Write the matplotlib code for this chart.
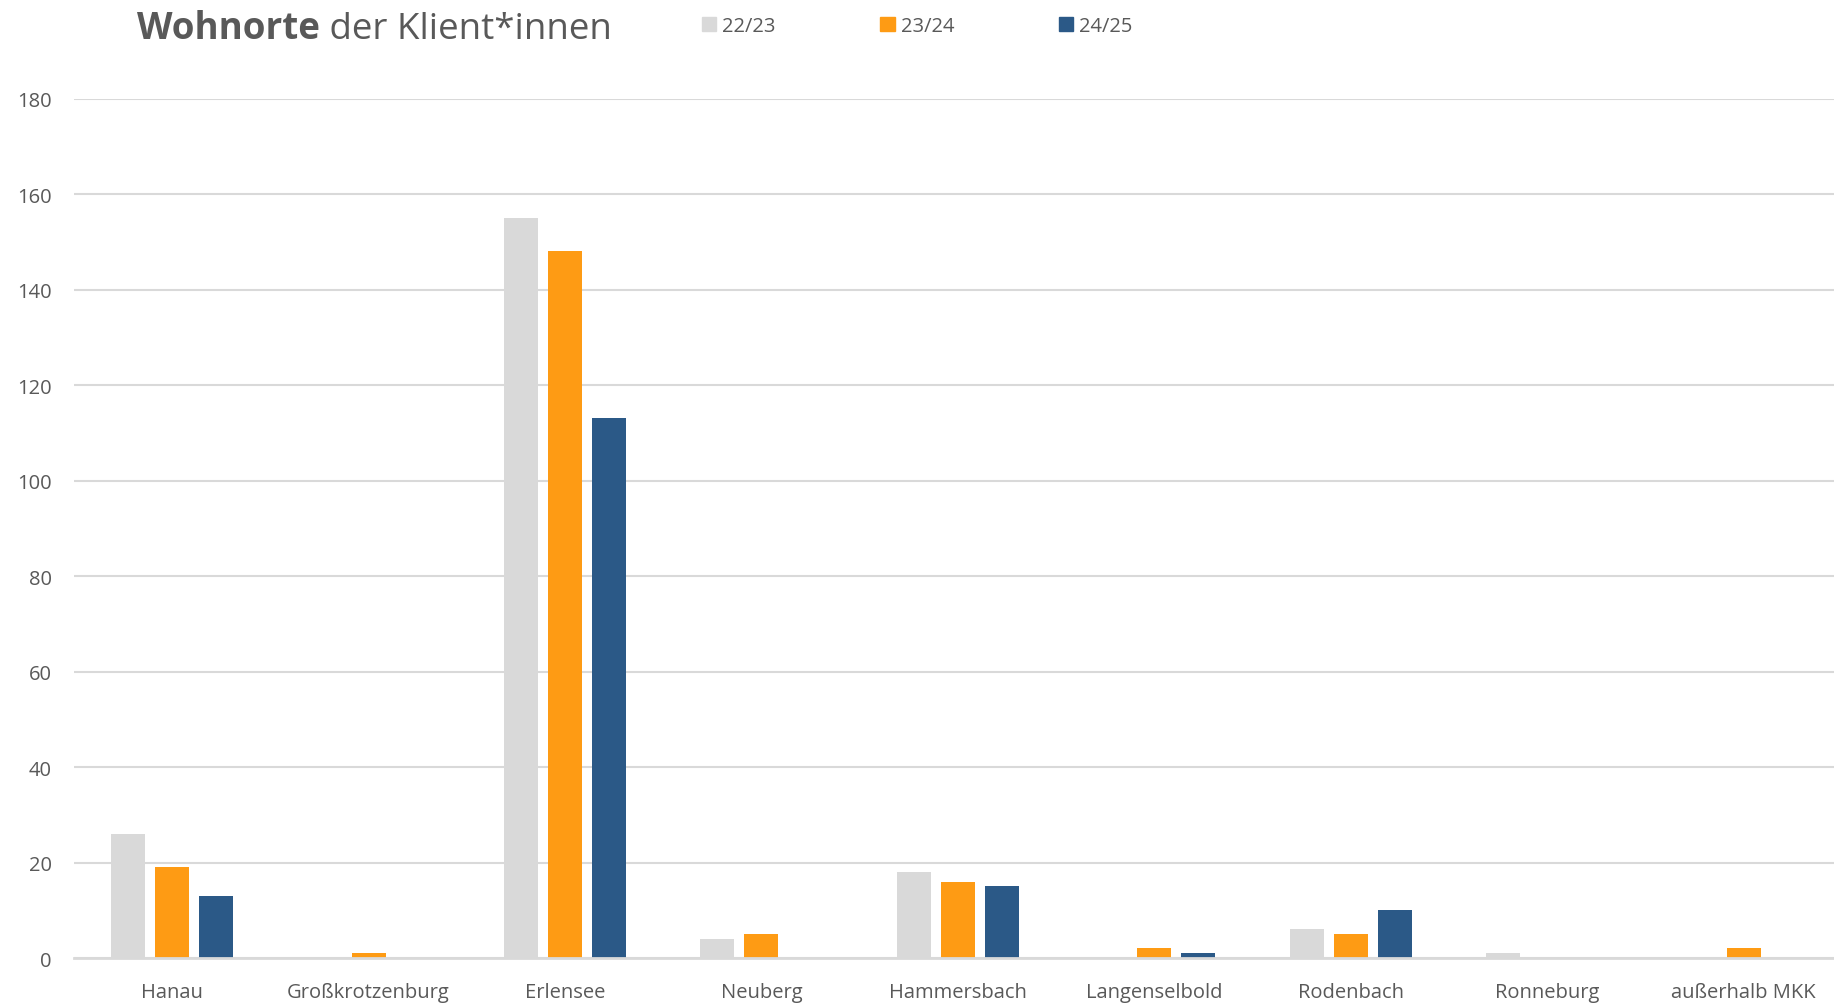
import numpy as np
import matplotlib.pyplot as plt
from matplotlib.patches import Patch

plt.rcParams['font.family'] = ['Open Sans', 'DejaVu Sans']

orte = ['Hanau', 'Großkrotzenburg', 'Erlensee', 'Neuberg', 'Hammersbach',
        'Langenselbold', 'Rodenbach', 'Ronneburg', 'außerhalb MKK']
jahre = ['22/23', '23/24', '24/25']
v_22_23 = [26, 0, 155, 4, 18, 0, 6, 1, 0]
v_23_24 = [19, 1, 148, 5, 16, 2, 5, 0, 2]
v_24_25 = [13, 0, 113, 0, 15, 1, 10, 0, 0]
farben = ['#d9d9d9', '#fe9b14', '#2b5987']

textfarbe = '#595959'
gridfarbe = '#d9d9d9'

fig = plt.figure(figsize=(18.34, 10.04), dpi=100)
ax = fig.add_axes([0.0403, 0.0448, 0.964, 0.856])

x = np.arange(len(orte))
breite = 0.173
abstand = 0.224
for i, (werte, farbe) in enumerate(zip([v_22_23, v_23_24, v_24_25], farben)):
    ax.bar(x + (i - 1) * abstand, werte, breite, color=farbe, label=jahre[i], zorder=3)

ax.set_xlim(-0.5, len(orte) - 0.5)
ax.set_ylim(0, 180)
ax.set_yticks(range(0, 181, 20))
ax.set_xticks(x)
ax.set_xticklabels(orte)
ax.tick_params(axis='both', length=0, labelsize=14.5, colors=textfarbe)
ax.tick_params(axis='y', pad=16)
ax.tick_params(axis='x', pad=17)
ax.grid(axis='y', color=gridfarbe, linewidth=1.5, zorder=0)
for s in ['top', 'right', 'left']:
    ax.spines[s].set_visible(False)
ax.spines['bottom'].set_color(gridfarbe)
ax.spines['bottom'].set_linewidth(2)
ax.spines['bottom'].set_zorder(4)

t1 = fig.text(137 / 1834, 1 - 29 / 1004, 'Wohnorte', fontsize=26.5, fontweight='bold',
              color=textfarbe, va='center', ha='left')
ax.annotate(' der Klient*innen', xy=(1, 0), xycoords=t1, va='bottom', ha='left',
            fontsize=26.5, color=textfarbe, annotation_clip=False)

handles = [Patch(color=f, label=j) for f, j in zip(farben, jahre)]
fig.legend(handles=handles, loc='center left', bbox_to_anchor=(684 / 1834, 1 - 27 / 1004),
           ncol=3, frameon=False, fontsize=14.5, labelcolor=textfarbe,
           handlelength=0.7, handleheight=0.7, handletextpad=0.3, columnspacing=5.2)

fig.savefig('out.png', dpi=100)
